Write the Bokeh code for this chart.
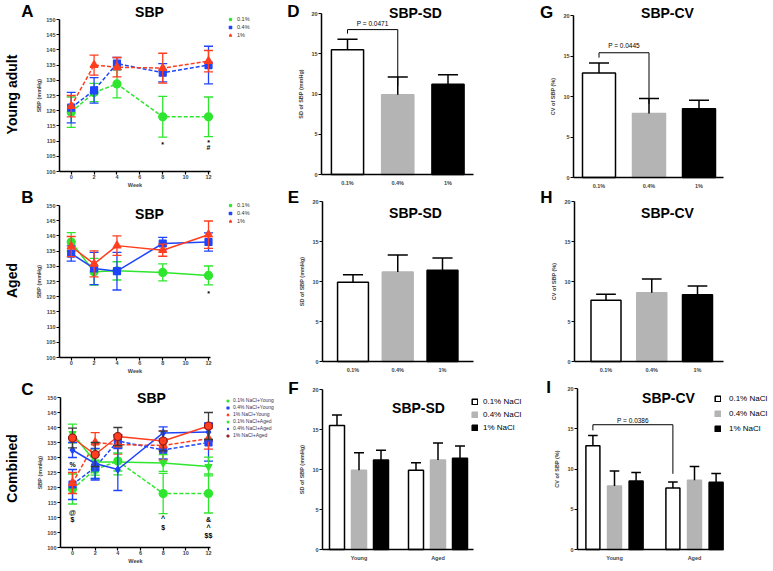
import math
from bokeh.plotting import figure
from bokeh.models import Range1d, FixedTicker, Label, Legend, LegendItem
from bokeh.layouts import row, column
from bokeh.embed import file_html
from bokeh.resources import INLINE
from bokeh.core.properties import value

FONT = "Liberation Sans"
GREEN = "#2ee62e"
BLUE = "#1f45fc"
RED = "#ff3d1f"
DARKRED = "#8b1a1a"
DARKERR = "#3a3a3a"
GREY = "#b4b4b4"

# ---------------- data ----------------
weeks = [0, 2, 4, 8, 12]
week_ticks = [0, 2, 4, 6, 8, 10, 12]
sbp_ticks = [100, 105, 110, 115, 120, 125, 130, 135, 140, 145, 150]
bar_ticks = [0, 5, 10, 15, 20]

young_01_mean = [119.5, 126.0, 128.8, 118.0, 118.0]
young_01_err = [5.0, 3.0, 4.6, 6.7, 6.5]
young_04_mean = [121.0, 126.7, 135.5, 132.5, 135.0]
young_04_err = [5.0, 4.2, 2.0, 3.0, 6.2]
young_1_mean = [121.5, 135.0, 134.3, 134.0, 136.3]
young_1_err = [3.5, 3.3, 3.2, 4.9, 3.5]

aged_01_mean = [138.0, 128.2, 128.5, 128.0, 127.0]
aged_01_err = [3.1, 4.4, 3.0, 2.8, 3.1]
aged_04_mean = [134.2, 129.3, 128.4, 137.5, 138.0]
aged_04_err = [2.5, 5.3, 6.2, 2.0, 3.0]
aged_1_mean = [136.5, 130.8, 136.8, 135.3, 140.4]
aged_1_err = [3.3, 4.3, 3.2, 2.0, 4.5]

comb_aged_01_mean = [138.0, 128.5, 128.5, 128.2, 127.0]
comb_aged_01_err = [3.1, 4.4, 3.0, 2.8, 3.1]
comb_aged_04_mean = [132.5, 128.0, 126.0, 138.2, 138.5]
comb_aged_04_err = [2.5, 5.0, 7.0, 2.0, 3.0]
comb_aged_1_mean = [136.5, 131.0, 137.0, 135.5, 140.5]
comb_aged_1_err = [3.3, 4.0, 3.0, 3.3, 4.5]

a_ann_x = [8, 12, 12]
a_ann_y = [108.9, 109.6, 107.9]
a_ann_t = ["*", "*", "#"]
b_ann_x = [12]
b_ann_y = [121.1]
b_ann_t = ["*"]
c_ann_x = [0, 0, 0, 8, 8, 12, 12, 12]
c_ann_y = [127.6, 111.7, 109.5, 109.7, 106.7, 109.2, 106.7, 103.9]
c_ann_t = ["%", "@", "$", "^", "$", "&", "^", "$$"]

salt_labels = ["0.1%", "0.4%", "1%"]
age_labels = ["Young", "Aged"]
legend_salt = ["0.1% NaCl", "0.4% NaCl", "1% NaCl"]
legend_comb = ["0.1% NaCl+Young", "0.4% NaCl+Young", "1% NaCl+Young",
               "0.1% NaCl+Aged", "0.4% NaCl+Aged", "1% NaCl+Aged"]

sd_young = [15.5, 9.9, 11.2]
sd_young_err = [1.3, 2.2, 1.2]
sd_aged = [9.9, 11.2, 11.4]
sd_aged_err = [0.95, 2.1, 1.55]
cv_young = [12.9, 7.9, 8.5]
cv_young_err = [1.25, 1.85, 1.05]
cv_aged = [7.65, 8.6, 8.35]
cv_aged_err = [0.75, 1.7, 1.1]

p_sd_young = "P = 0.0471"
p_cv_young = "P = 0.0445"
p_cv_comb = "P = 0.0386"


# ---------------- pixel <-> data mapping per panel ----------------
class Map:
    def __init__(self, ox, oy, w, h, xa, xb, ya, yb):
        self.ox, self.oy, self.w, self.h = ox, oy, w, h
        self.kx = (xb[1] - xa[1]) / (xb[0] - xa[0])
        self.cx = xa[1] - xa[0] * self.kx
        self.ky = (yb[1] - ya[1]) / (yb[0] - ya[0])
        self.cy = ya[1] - ya[0] * self.ky

    def dx(self, px):
        return self.cx + self.kx * px

    def dy(self, py):
        return self.cy + self.ky * py


M_A = Map(0, 0, 280, 188, (70.7, 0), (208, 12), (19, 150), (171, 100))
M_B = Map(0, 188, 280, 188, (70.7, 0), (208, 12), (205, 150), (357, 100))
M_C = Map(0, 376, 280, 194, (72, 0), (208, 12), (397, 150), (547, 100))
M_D = Map(280, 0, 255, 188, (347, 1), (397.25, 2), (13, 20), (174, 0))
M_E = Map(280, 188, 255, 188, (352.5, 1), (397.25, 2), (201, 20), (361, 0))
M_F = Map(280, 376, 255, 194, (358.5, 1), (437.5, 2), (389, 20), (549, 0))
M_G = Map(535, 0, 237, 188, (598.5, 1), (648.5, 2), (15, 20), (177, 0))
M_H = Map(535, 188, 237, 188, (605.5, 1), (651.25, 2), (201, 20), (361, 0))
M_I = Map(535, 376, 237, 194, (614, 1), (694, 2), (388, 20), (549, 0))


def mkfig(m, ax_px0, ax_px1, ylo, yhi):
    p = figure(width=m.w, height=m.h,
               x_range=Range1d(m.dx(m.ox), m.dx(m.ox + m.w)),
               y_range=Range1d(m.dy(m.oy + m.h), m.dy(m.oy)),
               output_backend="svg", toolbar_location=None, title=None,
               min_border_left=0, min_border_right=0, min_border_top=0, min_border_bottom=0)
    p.xgrid.visible = False
    p.ygrid.visible = False
    p.outline_line_color = None
    p.yaxis.fixed_location = m.dx(ax_px0)
    p.yaxis.bounds = (ylo, yhi)
    p.xaxis.fixed_location = ylo
    p.xaxis.bounds = (m.dx(ax_px0), m.dx(ax_px1))
    for ax in (p.xaxis[0], p.yaxis[0]):
        ax.axis_line_width = 1.5
        ax.axis_line_color = "black"
        ax.major_tick_line_width = 1.2
        ax.major_tick_out = 3
        ax.major_tick_in = 0
        ax.minor_tick_line_color = None
        ax.major_label_text_font = FONT
        ax.major_label_text_font_style = "bold"
        ax.major_label_text_font_size = "5.5px"
        ax.major_label_standoff = 1
        ax.axis_label_text_font = FONT
        ax.axis_label_text_font_style = "bold"
        ax.axis_label_text_font_size = "5.5px"
        ax.axis_label_standoff = 1
    return p


def lab(p, m, ix, iy, text, size, style="bold", angle=0.0, align="center", color="black"):
    p.add_layout(Label(x=m.dx(ix), y=m.dy(iy), text=text, text_font=FONT, text_font_size=size,
                       text_font_style=style, text_align=align, text_baseline="middle",
                       angle=angle, text_color=color))


def add_legend(p, m, items, left_px, top_px, size, glyph, spacing, standoff, color="#333333"):
    n = len(items)
    height = n * glyph + (n - 1) * spacing
    vx = left_px - m.ox
    vy = (m.oy + m.h) - (top_px + height)
    leg = Legend(items=items, location=(vx, vy), orientation="vertical",
                 label_text_font=FONT, label_text_font_size=size, label_text_color=color,
                 glyph_width=glyph, glyph_height=glyph, label_height=glyph, label_width=5,
                 spacing=spacing, label_standoff=standoff, padding=0, margin=0,
                 border_line_color=None, background_fill_alpha=0)
    p.add_layout(leg)


def line_panel(m, ax0, ax1):
    p = mkfig(m, ax0, ax1, 100, 150)
    p.xaxis.ticker = FixedTicker(ticks=week_ticks)
    p.yaxis.ticker = FixedTicker(ticks=sbp_ticks)
    p.xaxis.axis_label = "Week"
    p.yaxis.axis_label = "SBP (mmHg)"
    p.xaxis.major_label_standoff = 0
    p.xaxis.axis_label_standoff = 0
    return p


def add_series(p, mean, err, color, marker, dashed, size, mline=None, ecolor=None):
    lo = [mm - e for mm, e in zip(mean, err)]
    hi = [mm + e for mm, e in zip(mean, err)]
    ec = ecolor or color
    p.segment(weeks, lo, weeks, hi, line_color=ec, line_width=1.3)
    p.scatter(weeks, lo, marker="dash", size=9, line_color=ec, line_width=1.3)
    p.scatter(weeks, hi, marker="dash", size=9, line_color=ec, line_width=1.3)
    p.line(weeks, mean, line_color=color, line_width=1.5,
           line_dash="4 2" if dashed else "solid")
    r = p.scatter(weeks, mean, marker=marker, size=size, fill_color=color,
                  line_color=mline or color, line_width=1.2)
    return r


def ann(p, xs, ys, ts):
    p.text(x=xs, y=ys, text=ts, text_font=value(FONT), text_font_size="7px",
           text_font_style="bold", text_align="center", text_baseline="middle")


# ---------------- Panel A ----------------
pA = line_panel(M_A, 59, 210)
rA1 = add_series(pA, young_01_mean, young_01_err, GREEN, "circle", True, 8)
rA2 = add_series(pA, young_04_mean, young_04_err, BLUE, "square", True, 7)
rA3 = add_series(pA, young_1_mean, young_1_err, RED, "triangle", True, 8)
ann(pA, a_ann_x, a_ann_y, a_ann_t)
add_legend(pA, M_A, [LegendItem(label=salt_labels[0], renderers=[rA1]),
                     LegendItem(label=salt_labels[1], renderers=[rA2]),
                     LegendItem(label=salt_labels[2], renderers=[rA3])],
           227, 16, "5.5px", 6, 2, 4)
lab(pA, M_A, 149, 11, "SBP", "14px")
lab(pA, M_A, 27, 11, "A", "17px")
lab(pA, M_A, 11, 94, "Young adult", "14px", angle=math.pi / 2)

# ---------------- Panel B ----------------
pB = line_panel(M_B, 59, 210)
rB1 = add_series(pB, aged_01_mean, aged_01_err, GREEN, "circle", False, 8)
rB2 = add_series(pB, aged_04_mean, aged_04_err, BLUE, "square", False, 7)
rB3 = add_series(pB, aged_1_mean, aged_1_err, RED, "triangle", False, 8)
ann(pB, b_ann_x, b_ann_y, b_ann_t)
add_legend(pB, M_B, [LegendItem(label=salt_labels[0], renderers=[rB1]),
                     LegendItem(label=salt_labels[1], renderers=[rB2]),
                     LegendItem(label=salt_labels[2], renderers=[rB3])],
           227, 202, "5.5px", 6, 2, 4)
lab(pB, M_B, 149, 213, "SBP", "14px")
lab(pB, M_B, 27, 197, "B", "17px")
lab(pB, M_B, 11, 280, "Aged", "14px", angle=math.pi / 2)

# ---------------- Panel C ----------------
pC = line_panel(M_C, 60, 210)
rC1 = add_series(pC, young_01_mean, young_01_err, GREEN, "circle", True, 8)
rC2 = add_series(pC, young_04_mean, young_04_err, BLUE, "square", True, 7)
rC3 = add_series(pC, young_1_mean, young_1_err, RED, "triangle", True, 8)
rC4 = add_series(pC, comb_aged_01_mean, comb_aged_01_err, GREEN, "inverted_triangle", False, 7)
rC5 = add_series(pC, comb_aged_04_mean, comb_aged_04_err, BLUE, "diamond", False, 7)
rC6 = add_series(pC, comb_aged_1_mean, comb_aged_1_err, RED, "circle", False, 8,
                 mline=DARKRED, ecolor=DARKERR)
ann(pC, c_ann_x, c_ann_y, c_ann_t)
add_legend(pC, M_C, [LegendItem(label=legend_comb[i], renderers=[r])
                     for i, r in enumerate([rC1, rC2, rC3, rC4, rC5, rC6])],
           225, 403, "5px", 5, 1, 3, color="#333355")
lab(pC, M_C, 151, 397, "SBP", "14px")
lab(pC, M_C, 27, 389, "C", "17px")
lab(pC, M_C, 11, 468, "Combined", "14px", angle=math.pi / 2)


# ---------------- bar panels ----------------
def bar_panel(m, ax0, ax1, ylabel, ticks, labels):
    p = mkfig(m, ax0, ax1, 0, 20)
    p.yaxis.ticker = FixedTicker(ticks=bar_ticks)
    p.yaxis.axis_label = ylabel
    p.yaxis.axis_label_standoff = 4
    p.xaxis.ticker = FixedTicker(ticks=ticks)
    p.xaxis.major_label_overrides = {t: l for t, l in zip(ticks, labels)}
    p.xaxis.major_tick_out = 0
    p.xaxis.major_tick_line_color = None
    p.xaxis.major_label_standoff = 5
    return p


FILLS = ["white", GREY, "black"]
LINES = ["black", GREY, "black"]


def bars(p, xs, vals, errs, width, cap):
    rs = []
    for x, v, fc, lc in zip(xs, vals, FILLS, LINES):
        r = p.vbar(x=[x], top=[v], bottom=0, width=width, fill_color=fc,
                   line_color=lc, line_width=1.5)
        rs.append(r)
    tops = [v + e for v, e in zip(vals, errs)]
    p.segment(xs, vals, xs, tops, line_color="black", line_width=1.5)
    p.segment([x - cap / 2 for x in xs], tops, [x + cap / 2 for x in xs], tops,
              line_color="black", line_width=1.5)
    return rs


def bracket(p, x1, x2, ytop, yl, yr, text, ytext):
    p.line([x1, x1, x2, x2], [yl, ytop, ytop, yr], line_color="black", line_width=1)
    p.text(x=[(x1 + x2) / 2], y=[ytext], text=[text], text_font=value(FONT),
           text_font_size="6.5px", text_align="center", text_baseline="middle")


x3 = [1, 2, 3]

# D
pD = bar_panel(M_D, 321, 473, "SD of SBP (mmHg)", x3, salt_labels)
bars(pD, x3, sd_young, sd_young_err, 0.64, 0.4)
bracket(pD, 1, 2, 18.0, 17.5, 11.0, p_sd_young, 18.8)
lab(pD, M_D, 415, 12, "SBP-SD", "14px")
lab(pD, M_D, 293, 11, "D", "17px")

# E
pE = bar_panel(M_E, 322, 473, "SD of SBP (mmHg)", x3, salt_labels)
bars(pE, x3, sd_aged, sd_aged_err, 0.69, 0.45)
lab(pE, M_E, 415, 212, "SBP-SD", "14px")
lab(pE, M_E, 293, 197, "E", "17px")

# G
pG = bar_panel(M_G, 573, 723, "CV of SBP (%)", x3, salt_labels)
bars(pG, x3, cv_young, cv_young_err, 0.66, 0.4)
bracket(pG, 1, 2, 15.4, 14.8, 9.1, p_cv_young, 16.3)
lab(pG, M_G, 667, 12, "SBP-CV", "14px")
lab(pG, M_G, 546, 12, "G", "17px")

# H
pH = bar_panel(M_H, 574, 723, "CV of SBP (%)", x3, salt_labels)
bars(pH, x3, cv_aged, cv_aged_err, 0.656, 0.43)
lab(pH, M_H, 667, 212, "SBP-CV", "14px")
lab(pH, M_H, 546, 197, "H", "17px")

# F (grouped)
x2 = [1, 2]
pF = bar_panel(M_F, 322, 473, "SD of SBP (mmHg)", x2, age_labels)
offF = 0.2785
rFy = bars(pF, [1 - offF, 1, 1 + offF], sd_young, sd_young_err, 0.19, 0.127)
bars(pF, [2 - offF, 2, 2 + offF], sd_aged, sd_aged_err, 0.19, 0.127)
add_legend(pF, M_F, [LegendItem(label=legend_salt[i], renderers=[rFy[i]]) for i in range(3)],
           471, 403, "8px", 7, 4, 5, color="black")
lab(pF, M_F, 418, 407, "SBP-SD", "14px")
lab(pF, M_F, 293, 388, "F", "17px")

# I (grouped)
pI = bar_panel(M_I, 577, 723, "CV of SBP (%)", x2, age_labels)
offI = 0.27
rIy = bars(pI, [1 - offI, 1, 1 + offI], cv_young, cv_young_err, 0.175, 0.12)
bars(pI, [2 - offI, 2, 2 + offI], cv_aged, cv_aged_err, 0.175, 0.12)
bracket(pI, 1 - offI, 2 - offI, 15.5, 14.8, 9.4, p_cv_comb, 16.0)
add_legend(pI, M_I, [LegendItem(label=legend_salt[i], renderers=[rIy[i]]) for i in range(3)],
           714, 400, "8px", 7, 6, 8, color="black")
lab(pI, M_I, 668, 397, "SBP-CV", "14px")
lab(pI, M_I, 548, 387, "I", "17px")

layout = row(column(pA, pB, pC), column(pD, pE, pF), column(pG, pH, pI))

open("out.html", "w").write(file_html(layout, INLINE))
